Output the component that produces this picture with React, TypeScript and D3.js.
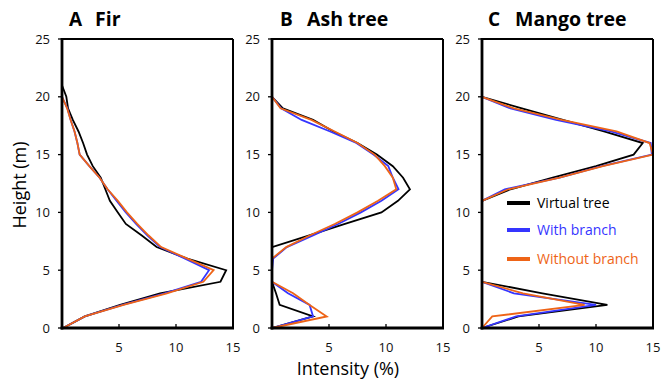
import React from 'react';
import * as d3 from 'd3';

const panelLetters = ['A', 'B', 'C'];
const panelNames = ['Fir', 'Ash tree', 'Mango tree'];
const seriesNames = ['Virtual tree', 'With branch', 'Without branch'];
const seriesColors = ['#000000', '#3535ff', '#ee6417'];
const xTicks = [5, 10, 15];
const yTicks = [0, 5, 10, 15, 20, 25];

const firHeightsVirtual = [0, 1, 2, 3, 4, 5, 6, 7, 8, 9, 10, 11, 12, 13, 14, 15, 16, 17, 18, 19, 20, 21];
const firHeights = [0, 1, 2, 3, 4, 5, 6, 7, 8, 9, 10, 11, 12, 13, 14, 15, 16, 17, 18, 19, 20];
const firVirtual = [0.1, 2.0, 5.1, 8.6, 13.9, 14.4, 11.0, 8.3, 7.0, 5.6, 4.9, 4.2, 3.8, 3.4, 2.7, 2.2, 1.85, 1.45, 0.95, 0.53, 0.38, 0];
const firWith = [0.1, 2.0, 5.3, 9.0, 12.2, 12.9, 10.8, 8.6, 7.5, 6.5, 5.6, 4.8, 4.0, 3.3, 2.4, 1.55, 1.35, 1.1, 0.76, 0.47, 0];
const firWithout = [0.1, 2.0, 5.4, 9.2, 12.4, 13.3, 11.0, 8.7, 7.6, 6.6, 5.7, 4.9, 4.0, 3.3, 2.4, 1.55, 1.35, 1.1, 0.76, 0.45, 0];

const ashHeights = [0, 1, 2, 3, 4, 5, 6, 7, 8, 9, 10, 11, 12, 13, 14, 15, 16, 17, 18, 19, 20];
const ashVirtual = [0, 3.6, 0.67, 0.35, 0, 0, 0, 0, 3.2, 6.4, 9.6, 11.05, 12.1, 11.5, 10.6, 9.2, 7.5, 5.4, 3.6, 0.96, 0];
const ashWith = [0, 3.6, 3.3, 1.4, 0, 0, 0.1, 1.3, 3.6, 5.8, 7.8, 9.6, 11.1, 10.6, 10.2, 8.9, 7.4, 5.1, 2.6, 0.8, 0];
const ashWithout = [0, 4.8, 3.3, 1.85, 0, 0, 0, 1.25, 3.3, 5.5, 7.5, 9.3, 10.9, 10.6, 9.9, 9.0, 7.5, 5.5, 3.45, 0.75, 0];

const mangoHeights = [0, 1, 2, 3, 4, 5, 6, 7, 8, 9, 10, 11, 12, 13, 14, 15, 16, 17, 18, 19, 20];
const mangoVirtual = [0, 3.2, 11.0, 5.3, 0, 0, 0, 0, 0, 0, 0, 0, 2.5, 6.2, 10.0, 13.3, 14.1, 10.7, 7.1, 3.5, 0];
const mangoWith = [0, 3.0, 10.0, 2.8, 0, 0, 0, 0, 0, 0, 0, 0, 2.0, 6.8, 10.5, 14.9, 14.8, 11.3, 6.5, 2.5, 0];
const mangoWithout = [0, 0.9, 9.0, 3.6, 0, 0, 0, 0, 0, 0, 0, 0, 2.3, 6.8, 10.6, 15.0, 14.7, 11.8, 7.0, 2.8, 0];

const panels = [
  { heights: [firHeightsVirtual, firHeights, firHeights], values: [firVirtual, firWith, firWithout] },
  { heights: [ashHeights, ashHeights, ashHeights], values: [ashVirtual, ashWith, ashWithout] },
  { heights: [mangoHeights, mangoHeights, mangoHeights], values: [mangoVirtual, mangoWith, mangoWithout] },
];

const W = 661;
const H = 383;
const panelLefts = [62, 272, 482];
const panelWidth = 171;
const top = 39;
const bottom = 328;
const font = "'Open Sans', 'DejaVu Sans', sans-serif";

export default function App() {
  const y = d3.scaleLinear().domain([0, 25]).range([bottom, top]);
  return (
    <svg width={W} height={H} style={{ position: 'absolute', left: 0, top: 0, background: '#fff' }} fontFamily={font}>
      <rect x={0} y={0} width={W} height={H} fill="#fff" />
      {panels.map((p, pi) => {
        const left = panelLefts[pi];
        const x = d3.scaleLinear().domain([0, 15]).range([left, left + panelWidth]);
        const line = d3
          .line<[number, number]>()
          .x((d) => x(d[0]))
          .y((d) => y(d[1]));
        return (
          <g key={pi}>
            {p.values.map((vals, si) => (
              <path
                key={si}
                d={line(vals.map((v, i) => [v, p.heights[si][i]]) as [number, number][]) || ''}
                fill="none"
                stroke={seriesColors[si]}
                strokeWidth={1.8}
                strokeLinejoin="miter"
              />
            ))}
            <line x1={x(0)} x2={x(15)} y1={y(25)} y2={y(25)} stroke="#000" strokeWidth={2} />
            <line x1={x(15)} x2={x(15)} y1={y(25)} y2={y(0)} stroke="#000" strokeWidth={2} />
            <line x1={x(0)} x2={x(0)} y1={y(25) - 1} y2={y(0) + 1.5} stroke="#000" strokeWidth={2.8} />
            <line x1={x(0) - 1.4} x2={x(15) + 1} y1={y(0)} y2={y(0)} stroke="#000" strokeWidth={2.8} />
            {yTicks.map((t) => (
              <g key={t}>
                <line x1={x(0) - 4} x2={x(0)} y1={y(t)} y2={y(t)} stroke="#000" strokeWidth={1.3} />
                <text x={x(0) - 12} y={y(t)} dy="0.35em" textAnchor="end" fontSize={13} fill="#111">
                  {t}
                </text>
              </g>
            ))}
            {xTicks.map((t) => (
              <g key={t}>
                <line x1={x(t)} x2={x(t)} y1={y(0) - 4} y2={y(0)} stroke="#000" strokeWidth={1.3} />
                <text x={x(t)} y={y(0) + 19} dy="0.35em" textAnchor="middle" fontSize={13} fill="#111">
                  {t}
                </text>
              </g>
            ))}
            <text x={left + [7, 8, 6][pi]} y={26} fontSize={19} fontWeight="bold" fill="#000">
              {panelLetters[pi]}
            </text>
            <text x={left + [33, 35, 33][pi]} y={26} fontSize={19.5} fontWeight="bold" fill="#000">
              {panelNames[pi]}
            </text>
          </g>
        );
      })}
      {seriesNames.map((s, i) => {
        const ly = [203, 230, 259][i];
        return (
          <g key={s}>
            <line x1={507} x2={530} y1={ly} y2={ly} stroke={seriesColors[i]} strokeWidth={4} />
            <text x={537} y={ly} dy="0.35em" fontSize={14} fill={seriesColors[i]}>
              {s}
            </text>
          </g>
        );
      })}
      <text transform="translate(26,185) rotate(-90)" textAnchor="middle" fontSize={18} fill="#000">
        Height (m)
      </text>
      <text x={348} y={375} textAnchor="middle" fontSize={18} fill="#000">
        Intensity (%)
      </text>
    </svg>
  );
}
